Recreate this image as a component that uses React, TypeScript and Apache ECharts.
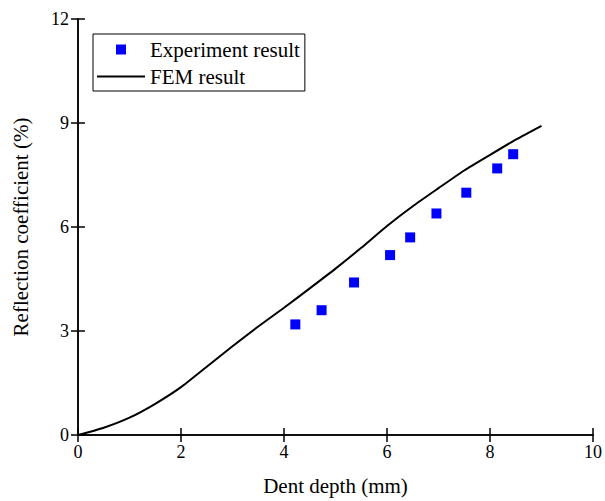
import React, { useEffect, useRef } from "react";
import * as echarts from "echarts";

// FEM simulation curve: reflection coefficient (%) vs dent depth (mm)
const femDepth = [0, 0.5, 1, 1.5, 2, 2.5, 3, 3.5, 4, 4.5, 5, 5.5, 6, 6.5, 7, 7.5, 8, 8.5, 9];
const femCoef = [0, 0.21, 0.5, 0.9, 1.38, 1.97, 2.56, 3.13, 3.67, 4.23, 4.8, 5.4, 6.03, 6.6, 7.12, 7.63, 8.08, 8.52, 8.92];

// Measured points
const expDepth = [4.22, 4.73, 5.36, 6.06, 6.45, 6.96, 7.54, 8.14, 8.45];
const expCoef = [3.19, 3.6, 4.4, 5.19, 5.7, 6.39, 6.99, 7.69, 8.1];

const seriesNames = ["Experiment result", "FEM result"];
const xAxisName = "Dent depth (mm)";
const yAxisName = "Reflection coefficient (%)";

const FONT = '"Liberation Serif", "Times New Roman", serif';

export default function App() {
  const ref = useRef<HTMLDivElement>(null);

  useEffect(() => {
    if (!ref.current) return;
    const chart = echarts.init(ref.current, null, { renderer: "svg" });

    const axisLine = { show: true, lineStyle: { color: "#000", width: 1.5 } };
    const axisTick = { show: true, inside: true, length: 7, lineStyle: { color: "#000", width: 1.5 } };

    chart.setOption({
      animation: false,
      backgroundColor: "#fff",
      textStyle: { fontFamily: FONT },
      grid: { left: 78, right: 8, top: 19, bottom: 66, containLabel: false },
      legend: {
        orient: "vertical",
        left: 93,
        top: 34,
        padding: [5, 5, 4, 3],
        itemGap: 6,
        itemWidth: 48,
        itemHeight: 10,
        borderColor: "#000",
        borderWidth: 1,
        borderRadius: 0,
        textStyle: { fontFamily: FONT, fontSize: 21, color: "#000" },
        data: [
          { name: seriesNames[0], icon: "path://M0 0H10V10H0Z", itemStyle: { color: "#0000ff", opacity: 1 } },
          { name: seriesNames[1], itemStyle: { opacity: 0 } },
        ],
      },
      xAxis: [
        {
          type: "value",
          position: "bottom",
          min: 0,
          max: 10,
          interval: 2,
          axisLine,
          axisTick,
          splitLine: { show: false },
          axisLabel: { color: "#000", fontSize: 18, fontFamily: FONT, margin: 8 },
          name: xAxisName,
          nameLocation: "middle",
          nameGap: 40,
          nameTextStyle: { color: "#000", fontSize: 21, fontFamily: FONT },
        },
        {
          type: "value",
          position: "top",
          min: 0,
          max: 10,
          interval: 2,
          axisLine,
          axisTick,
          splitLine: { show: false },
          axisLabel: { show: false },
        },
      ],
      yAxis: [
        {
          type: "value",
          position: "left",
          min: 0,
          max: 12,
          interval: 3,
          axisLine,
          axisTick,
          splitLine: { show: false },
          axisLabel: { color: "#000", fontSize: 18, fontFamily: FONT, margin: 9 },
          name: yAxisName,
          nameLocation: "middle",
          nameGap: 47,
          nameTextStyle: { color: "#000", fontSize: 21, fontFamily: FONT },
        },
        {
          type: "value",
          position: "right",
          min: 0,
          max: 12,
          interval: 3,
          axisLine,
          axisTick,
          splitLine: { show: false },
          axisLabel: { show: false },
        },
      ],
      series: [
        {
          name: seriesNames[0],
          type: "scatter",
          symbol: "rect",
          symbolSize: 10,
          symbolKeepAspect: true,
          itemStyle: { color: "#0000ff", opacity: 1 },
          data: expDepth.map((d, i) => [d, expCoef[i]]),
          z: 3,
        },
        {
          name: seriesNames[1],
          type: "line",
          showSymbol: false,
          symbol: "none",
          smooth: 0.2,
          lineStyle: { color: "#000", width: 2 },
          itemStyle: { color: "#000" },
          data: femDepth.map((d, i) => [d, femCoef[i]]),
          z: 2,
        },
      ],
    });

    return () => chart.dispose();
  }, []);

  return (
    <div
      ref={ref}
      style={{ position: "absolute", left: 0, top: 0, width: 605, height: 501 }}
    />
  );
}
